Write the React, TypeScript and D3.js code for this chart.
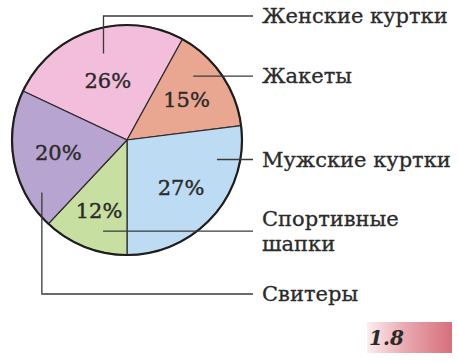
import React from "react";
import * as d3 from "d3";

const categories = ["Женские куртки", "Жакеты", "Мужские куртки", "Спортивные шапки", "Свитеры"];
const values = [26, 15, 27, 12, 20];
const percentLabels = ["26%", "15%", "27%", "12%", "20%"];
const labelLines = [["Женские куртки"], ["Жакеты"], ["Мужские куртки"], ["Спортивные", "шапки"], ["Свитеры"]];
const colors = ["#f3bedb", "#e9a690", "#bddcf3", "#c8dfa2", "#b8a4d0"];

// layout (not data)
const W = 458, H = 361;
const cx = 127, cy = 140, R = 115;
const startDeg = -64.8;
const pctRadius = [62, 72, 72, 76, 70];
const anchorLayout = [
  { t: 0.53, rf: 0.78, labelY: 16 },
  { t: 0.32, rf: 0.8, labelY: null },
  { t: 0.2, rf: 0.8, labelY: null },
  { t: 0.34, rf: 0.82, labelY: null },
  { t: 0.21, rf: 0.87, labelY: 294 },
];
const lineEndX = 253;
const textX = 262;
const FONT = "'DejaVu Serif', 'Liberation Serif', serif";

export default function App() {
  const pie = d3
    .pie<number>()
    .sort(null)
    .value((d) => d)
    .startAngle((startDeg * Math.PI) / 180)
    .endAngle(((startDeg + 360) * Math.PI) / 180);
  const arcs = pie(values);
  const arc = d3.arc<d3.PieArcDatum<number>>().innerRadius(0).outerRadius(R);

  return (
    <svg width={W} height={H} style={{ position: "absolute", left: 0, top: 0, background: "#fff" }}>
      <defs>
        <linearGradient id="badge" x1="0" x2="1" y1="0" y2="0">
          <stop offset="0%" stopColor="#fbeef0" />
          <stop offset="45%" stopColor="#e9a9b0" />
          <stop offset="100%" stopColor="#d76f7b" />
        </linearGradient>
      </defs>
      <g transform={`translate(${cx},${cy})`}>
        {arcs.map((a, i) => (
          <path key={i} d={arc(a) as string} fill={colors[i]} stroke="#2a2a2a" strokeWidth={1.2} />
        ))}
        <circle r={R} fill="none" stroke="#1e1e1e" strokeWidth={2.2} />
        {arcs.map((a, i) => {
          const la = d3.arc<d3.PieArcDatum<number>>().innerRadius(pctRadius[i]).outerRadius(pctRadius[i]);
          const [x, y] = la.centroid(a);
          return (
            <text
              key={"p" + i}
              x={x}
              y={y}
              textAnchor="middle"
              dominantBaseline="central"
              fontFamily={FONT}
              fontSize={21}
              fill="#2a2a2a"
              stroke="#2a2a2a"
              strokeWidth={0.4}
            >
              {percentLabels[i]}
            </text>
          );
        })}
      </g>
      {arcs.map((a, i) => {
        const L = anchorLayout[i];
        const ang = a.startAngle + L.t * (a.endAngle - a.startAngle);
        const ax = cx + Math.sin(ang) * R * L.rf;
        const ay = cy - Math.cos(ang) * R * L.rf;
        const ly = L.labelY == null ? ay : L.labelY;
        const lines = labelLines[i];
        const lh = 25;
        return (
          <g key={"l" + i}>
            <path d={`M${ax},${ay}V${ly}H${lineEndX}`} fill="none" stroke="#3a3a3a" strokeWidth={1.3} />
            {lines.map((s, j) => (
              <text
                key={j}
                x={textX}
                y={ly + (j - (lines.length - 1) / 2) * lh}
                dominantBaseline="central"
                fontFamily={FONT}
                fontSize={21}
                fill="#2a2a2a"
                stroke="#2a2a2a"
                strokeWidth={0.3}
              >
                {s}
              </text>
            ))}
          </g>
        );
      })}
      <rect x={367} y={322} width={85} height={31} fill="url(#badge)" />
      <text x={369} y={345} fontFamily={FONT} fontSize={20} fontWeight="bold" fontStyle="italic" fill="#2a2a2a">
        1.8
      </text>
    </svg>
  );
}
